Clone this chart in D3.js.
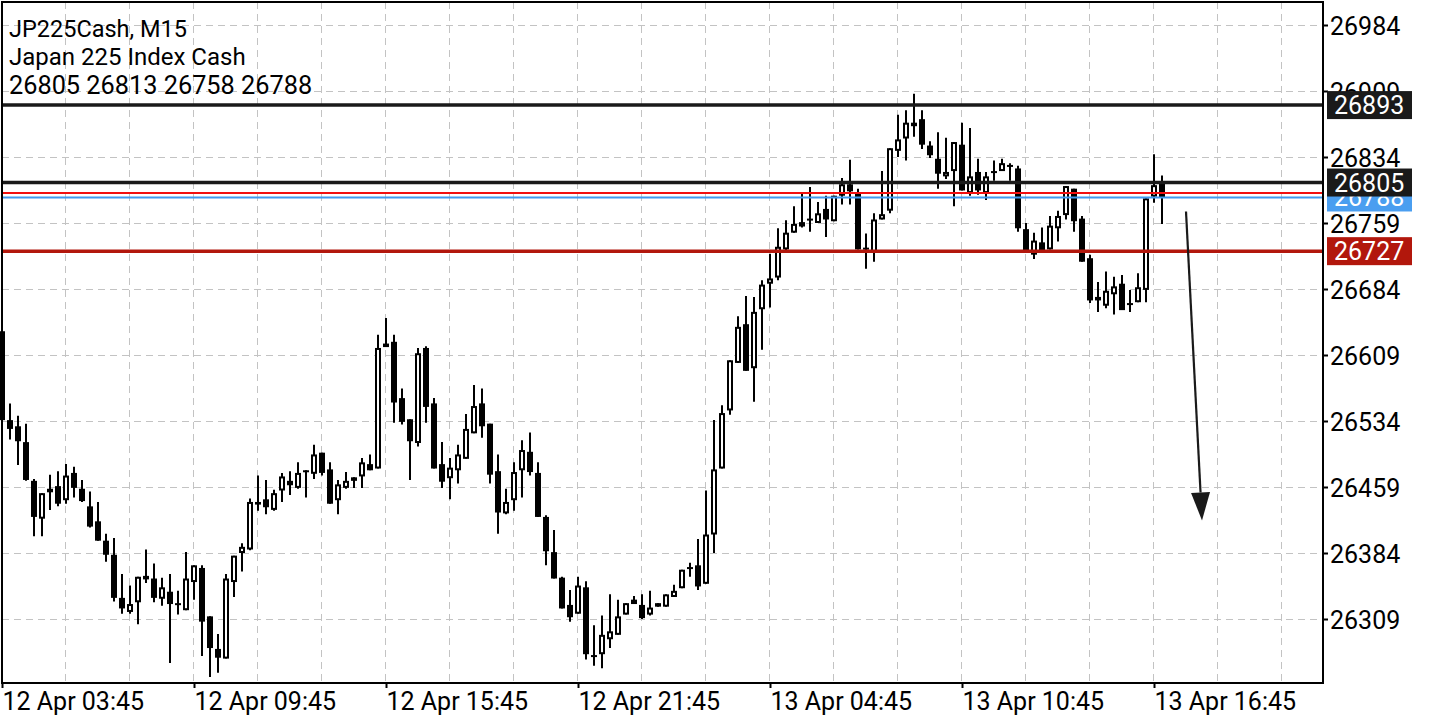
<!DOCTYPE html>
<html>
<head>
<meta charset="utf-8">
<script src="https://cdn.jsdelivr.net/npm/d3@7/dist/d3.min.js"></script>
<style>
  html, body { margin: 0; padding: 0; background: #fff; }
  svg { display: block; font-family: Roboto, "Noto Sans", sans-serif; }
</style>
</head>
<body>
<svg id="chart" width="1440" height="720"></svg>
<script>
// ---- Data (JP225Cash, M15) ----
const opens = [26636,26535,26528,26510,26466,26423,26457,26460,26444,26475,26457,26437,26420,26398,26382,26333,26317,26328,26358,26355,26332,26340,26327,26319,26351,26367,26312,26275,26264,26351,26384,26388,26442,26445,26433,26455,26466,26458,26478,26474,26498,26479,26444,26458,26470,26471,26485,26480,26622,26624,26560,26536,26509,26617,26554,26485,26469,26478,26491,26520,26554,26531,26477,26429,26444,26478,26499,26475,26425,26385,26356,26325,26315,26345,26268,26269,26286,26291,26314,26331,26325,26314,26327,26323,26334,26344,26368,26370,26349,26405,26480,26546,26600,26644,26594,26661,26690,26697,26729,26748,26760,26764,26759,26775,26761,26790,26803,26793,26731,26725,26763,26773,26841,26855,26869,26877,26847,26832,26812,26818,26848,26793,26817,26793,26818,26818,26825,26821,26752,26723,26737,26729,26753,26768,26798,26764,26719,26675,26665,26678,26690,26668,26669,26683,26789,26805];
const highs = [26640,26554,26540,26531,26468,26452,26473,26477,26485,26482,26467,26454,26442,26406,26401,26360,26347,26357,26388,26372,26356,26360,26341,26385,26370,26370,26312,26292,26360,26381,26395,26446,26472,26467,26456,26475,26477,26487,26478,26507,26498,26487,26467,26476,26470,26492,26496,26632,26651,26632,26571,26536,26617,26619,26560,26510,26492,26507,26542,26575,26571,26531,26496,26457,26487,26512,26521,26487,26427,26410,26357,26342,26357,26352,26302,26313,26337,26331,26327,26335,26337,26341,26327,26337,26348,26365,26373,26400,26455,26535,26552,26603,26653,26676,26675,26694,26724,26753,26762,26778,26793,26800,26783,26790,26790,26810,26831,26798,26747,26770,26818,26844,26882,26887,26906,26887,26852,26862,26856,26851,26873,26867,26832,26817,26830,26832,26827,26824,26759,26748,26754,26767,26773,26801,26798,26767,26723,26692,26704,26698,26700,26683,26702,26787,26837,26813];
const lows = [26533,26513,26484,26466,26403,26403,26433,26437,26440,26447,26442,26413,26398,26374,26329,26315,26315,26303,26350,26328,26324,26259,26314,26319,26331,26267,26243,26248,26264,26334,26363,26387,26432,26428,26432,26442,26450,26457,26447,26468,26472,26440,26428,26457,26458,26458,26478,26480,26618,26532,26530,26467,26505,26532,26480,26458,26445,26463,26491,26520,26515,26463,26406,26428,26432,26447,26472,26425,26370,26355,26321,26306,26315,26263,26256,26253,26276,26291,26314,26326,26309,26313,26323,26323,26334,26344,26357,26342,26349,26384,26480,26541,26600,26591,26556,26615,26663,26694,26725,26748,26754,26749,26759,26743,26761,26780,26780,26729,26707,26715,26763,26770,26834,26830,26857,26843,26833,26798,26809,26778,26796,26790,26791,26785,26807,26818,26807,26749,26725,26718,26725,26729,26738,26763,26749,26715,26668,26658,26662,26655,26660,26658,26669,26669,26782,26758];
const closes = [26535,26525,26511,26467,26425,26452,26453,26440,26472,26458,26443,26414,26398,26382,26333,26321,26326,26357,26354,26333,26345,26326,26325,26355,26370,26306,26276,26265,26355,26381,26391,26442,26439,26436,26452,26471,26461,26475,26477,26496,26475,26440,26462,26466,26466,26487,26478,26617,26618,26555,26533,26511,26611,26550,26480,26465,26481,26496,26525,26551,26528,26473,26430,26442,26476,26501,26476,26425,26386,26355,26321,26311,26347,26269,26267,26291,26295,26312,26327,26326,26310,26322,26323,26337,26341,26365,26367,26346,26405,26479,26543,26603,26641,26591,26658,26689,26696,26732,26748,26758,26755,26763,26770,26763,26790,26803,26795,26729,26729,26763,26769,26844,26854,26873,26873,26848,26836,26815,26817,26851,26796,26812,26796,26812,26817,26827,26824,26753,26725,26739,26725,26756,26767,26801,26761,26715,26671,26671,26682,26687,26660,26667,26686,26787,26802,26788];

const priceTicks = [26984,26909,26834,26759,26684,26609,26534,26459,26384,26309];
const timeTickIndex = [0,24,48,72,96,120,144];
const timeTickLabels = ["12 Apr 03:45","12 Apr 09:45","12 Apr 15:45","12 Apr 21:45","13 Apr 04:45","13 Apr 10:45","13 Apr 16:45"];

const titleLines = ["JP225Cash, M15","Japan 225 Index Cash","26805 26813 26758 26788"];

const resistanceLevel = 26893;   // black thick line
const openLevel = 26805;         // black thick line
const supportLevel = 26727;      // dark red thick line
const bidPrice = 26788;          // blue line
const askPrice = 26793;          // thin red line

// arrow annotation (candle index, price)
const arrowFrom = {i: 148, p: 26772};
const arrowTo = {i: 150, p: 26421};

// ---- Layout ----
const svg = d3.select("#chart");
const L = 2, T = 2, R = 1323, B = 683;

const x = d3.scaleLinear().domain([0, 145]).range([2, 1162]);
const y = d3.scaleLinear().domain([26309, 26984]).range([619, 25]);

const candles = opens.map((o, i) => ({i, o, h: highs[i], l: lows[i], c: closes[i]}));

// grid
const grid = svg.append("g").attr("stroke", "#c3c3c3").attr("stroke-width", 1).attr("stroke-dasharray", "7,5");
grid.selectAll("line.h").data(priceTicks).join("line")
  .attr("x1", L).attr("x2", R)
  .attr("y1", d => Math.round(y(d)) + 0.5).attr("y2", d => Math.round(y(d)) + 0.5);
const vIdx = d3.range(8, 168, 8);
grid.selectAll("line.v").data(vIdx).join("line")
  .attr("y1", T).attr("y2", B)
  .attr("x1", d => Math.round(x(d)) - 0.5).attr("x2", d => Math.round(x(d)) - 0.5);

// candles
const cg = svg.append("g");
cg.selectAll("line.wick").data(candles).join("line")
  .attr("x1", d => x(d.i)).attr("x2", d => x(d.i))
  .attr("y1", d => y(d.h)).attr("y2", d => y(d.l))
  .attr("stroke", "#000").attr("stroke-width", 2);
cg.selectAll("rect.body").data(candles).join("rect")
  .attr("x", d => d.c >= d.o ? x(d.i) - 2 : x(d.i) - 3)
  .attr("width", d => d.c >= d.o ? 4 : 6)
  .attr("y", d => d.c >= d.o ? y(d.c) + 1 : y(d.o))
  .attr("height", d => d.c >= d.o ? Math.max(y(d.o) - y(d.c) - 2, 0) : Math.max(y(d.c) - y(d.o), 2))
  .attr("fill", d => d.c >= d.o ? "#fff" : "#000")
  .attr("stroke", d => d.c >= d.o ? "#000" : "none")
  .attr("stroke-width", 2);

// level lines (drawn above candles)
const lv = svg.append("g");
function hline(p, color, w) {
  lv.append("line").attr("x1", L).attr("x2", R)
    .attr("y1", y(p)).attr("y2", y(p))
    .attr("stroke", color).attr("stroke-width", w);
}
hline(askPrice, "#f21010", 2);
hline(bidPrice, "#4299ee", 2);
hline(resistanceLevel, "#1a1a1a", 3.5);
hline(openLevel, "#1a1a1a", 3.5);
hline(supportLevel, "#b2170c", 3.5);

// arrow
const ag = svg.append("g");
const ax1 = x(arrowFrom.i), ay1 = y(arrowFrom.p), ax2 = x(arrowTo.i), ay2 = y(arrowTo.p);
const ang = Math.atan2(ay2 - ay1, ax2 - ax1);
const headLen = 28, headHalf = 9.5;
const bx = ax2 - headLen * Math.cos(ang), by = ay2 - headLen * Math.sin(ang);
ag.append("line").attr("x1", ax1).attr("y1", ay1).attr("x2", bx).attr("y2", by)
  .attr("stroke", "#1a1a1a").attr("stroke-width", 2.2);
ag.append("path")
  .attr("d", `M${ax2},${ay2}L${bx - headHalf * Math.sin(ang)},${by + headHalf * Math.cos(ang)}L${bx + headHalf * Math.sin(ang)},${by - headHalf * Math.cos(ang)}Z`)
  .attr("fill", "#1a1a1a");

// frame
svg.append("rect").attr("x", L).attr("y", T).attr("width", R - L).attr("height", B - T)
  .attr("fill", "none").attr("stroke", "#000").attr("stroke-width", 2);

// y axis
const yAxis = svg.append("g").attr("transform", `translate(${R},0)`)
  .call(d3.axisRight(y).tickValues(priceTicks).tickFormat(d3.format("d")).tickSize(5).tickPadding(2));
yAxis.select(".domain").remove();
yAxis.selectAll(".tick line").attr("stroke", "#000").attr("stroke-width", 2);
yAxis.selectAll(".tick text").attr("font-size", 25).attr("fill", "#000")
  .attr("font-family", "Roboto").attr("dy", "0.36em");

// x axis
const xAxis = svg.append("g").attr("transform", `translate(0,${B})`)
  .call(d3.axisBottom(x).tickValues(timeTickIndex).tickFormat((d, k) => timeTickLabels[k]).tickSize(5));
xAxis.select(".domain").remove();
xAxis.selectAll(".tick line").attr("stroke", "#000").attr("stroke-width", 2);
xAxis.selectAll(".tick text").attr("font-size", 25).attr("fill", "#000")
  .attr("font-family", "Roboto").attr("text-anchor", "start").attr("x", 0).attr("y", 27).attr("dy", 0);

// price labels on axis
const lb = svg.append("g");
function plabel(p, color) {
  const cy = y(p);
  lb.append("rect").attr("x", 1327).attr("y", cy - 14).attr("width", 85).attr("height", 28).attr("fill", color);
  lb.append("text").attr("x", 1334).attr("y", cy + 9).attr("font-size", 25).attr("fill", "#fff")
    .text(d3.format("d")(p));
}
plabel(resistanceLevel, "#1a1a1a");
plabel(bidPrice, "#4a9ef0");
plabel(openLevel, "#1a1a1a");
plabel(supportLevel, "#b2170c");

// title block
svg.append("g").selectAll("text").data(titleLines).join("text")
  .attr("x", 9).attr("y", (d, k) => [37, 64.5, 94][k])
  .attr("font-size", (d, k) => [23.5, 24, 25.3][k]).attr("fill", "#000").text(d => d);
</script>
</body>
</html>
